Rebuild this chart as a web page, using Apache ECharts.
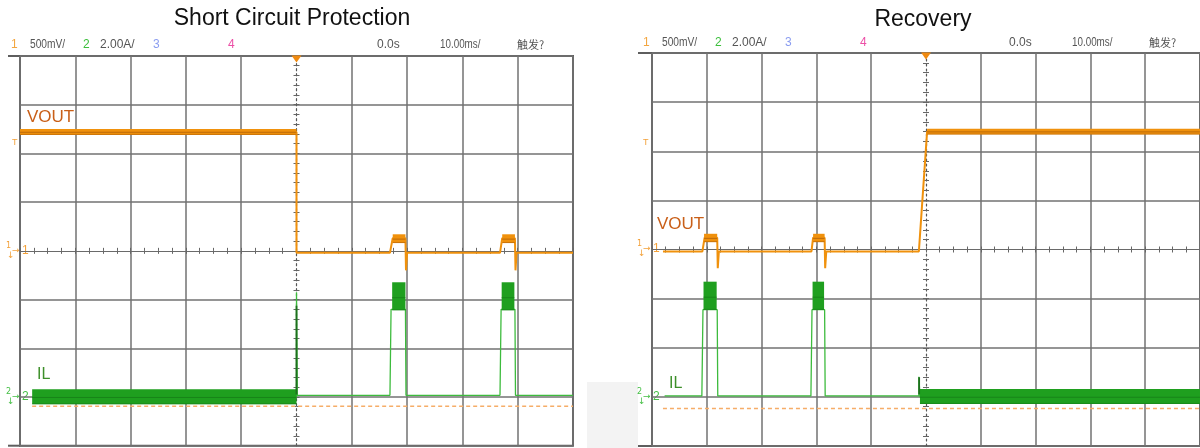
<!DOCTYPE html>
<html><head><meta charset="utf-8">
<script src="https://cdn.jsdelivr.net/npm/echarts@6/dist/echarts.min.js"></script>
<style>html,body{margin:0;padding:0;background:#fff}#c{width:1200px;height:448px}</style>
</head><body><div id="c"></div>
<script>
// ---------------- data ----------------
const panelTitles = ['Short Circuit Protection', 'Recovery'];
const headerTexts = ['1', '500mV/', '2', '2.00A/', '3', '4', '0.0s', '10.00ms/', '触发?'];
const traceNames = ['VOUT', 'IL'];
// time axis (ms), 10 ms/div
const timeMin = -50, timeMax = 50, timeStep = 10;
// CH1 VOUT axis (V), 500 mV/div, ground at centre
const ch1Min = -2, ch1Max = 2, ch1Step = 0.5;
// CH2 IL axis (A), 2 A/div, ground 3 div below centre
const ch2Min = -2, ch2Max = 14, ch2Step = 2;

// Short Circuit Protection : [t(ms), value]
const scpVout = [[-50,1.22],[0,1.22],[0,-0.02],[16.9,-0.02],[17.4,0.13],[19.7,0.13],[19.8,-0.2],[20.0,-0.02],
  [36.8,-0.02],[37.2,0.13],[39.5,0.13],[39.6,-0.2],[39.8,-0.02],[50,-0.02]];
const scpVoutBand = [[-50,0,1.19,1.25],[17.4,19.7,0.08,0.17],[37.2,39.5,0.08,0.17]]; // [t0,t1,lo,hi]
const scpIl = [[-47.8,0],[0,0],[0,4.3],[0.15,0.07],[16.9,0.07],[17.1,3.6],[19.7,3.6],[19.8,0.07],
  [36.8,0.07],[37.0,3.6],[39.5,3.6],[39.6,0.07],[50,0.07]];
const scpIlBand = [[-47.8,0,-0.30,0.32],[17.3,19.7,3.56,4.71],[37.1,39.4,3.56,4.71]];
const scpIlSpike = [[0,0.1],[0,3.75]];
const scpRef = [[-47.8,-0.38],[50,-0.38]];

// Recovery
const recVout = [[-48,-0.02],[-40.8,-0.02],[-40.4,0.12],[-38.1,0.12],[-38.0,-0.19],[-37.8,-0.02],
  [-20.9,-0.02],[-20.6,0.12],[-18.5,0.12],[-18.4,-0.19],[-18.2,-0.02],[-1.3,-0.02],[0.2,1.2],[50,1.2]];
const recVoutBand = [[0.2,50,1.17,1.23],[-40.5,-38.1,0.075,0.16],[-20.6,-18.5,0.075,0.16]];
const recIl = [[-47.7,0.04],[-40.9,0.04],[-40.7,3.55],[-38.1,3.55],[-38.0,0.04],[-21.0,0.04],[-20.8,3.55],
  [-18.5,3.55],[-18.4,0.04],[-1.3,0.04],[-1.3,0.82],[-1.1,0.0],[50,0.0]];
const recIlBand = [[-1.1,50,-0.29,0.32],[-40.6,-38.2,3.54,4.69],[-20.7,-18.6,3.54,4.69]];
const recIlSpike = [[-1.25,0.1],[-1.25,0.8]];
const recRef = [[-48,-0.47],[50,-0.47]];

const panels = [
  {vout: scpVout, voutBand: scpVoutBand, il: scpIl, ilBand: scpIlBand, spike: scpIlSpike, ref: scpRef},
  {vout: recVout, voutBand: recVoutBand, il: recIl, ilBand: recIlBand, spike: recIlSpike, ref: recRef}
];

// ---------------- layout / style ----------------
const grids = [
  {left: 20, top: 56, width: 553, height: 389.7},
  {left: 652, top: 53, width: 554, height: 393}
];
const GRID_C = '#727272', BORDER_C = '#5e5e5e';
const ORANGE = '#f0910c', GREEN_THIN = '#3dbb3d', GREEN_BAND = '#1f9f1f';

const xSplitColors = [];
for (let i = 0; i <= (timeMax - timeMin) / timeStep; i++) xSplitColors.push(timeMin + i * timeStep === 0 ? 'rgba(0,0,0,0)' : GRID_C);
const ySplitColors = [];
for (let i = 0; i <= Math.round((ch1Max - ch1Min) / ch1Step); i++) ySplitColors.push(Math.abs(ch1Min + i * ch1Step) < 1e-9 ? 'rgba(0,0,0,0)' : GRID_C);

const xAxes = [], yAxes = [], series = [];

function bandRender(fill, core) {
  return function (params, api) {
    const p0 = api.coord([api.value(0), api.value(3)]);
    const p1 = api.coord([api.value(1), api.value(2)]);
    const cs = params.coordSys;
    const r = echarts.graphic.clipRectByRect(
      {x: p0[0], y: p0[1], width: p1[0] - p0[0], height: p1[1] - p0[1]},
      {x: cs.x, y: cs.y, width: cs.width, height: cs.height});
    if (!r) return;
    const children = [{type: 'rect', shape: r, style: {fill: fill}}];
    if (core) {
      children.push({type: 'line', shape: {x1: r.x, y1: r.y + r.height * 0.55, x2: r.x + r.width, y2: r.y + r.height * 0.55},
        style: {stroke: core, lineWidth: 1, opacity: 0.7}});
      children.push({type: 'line', shape: {x1: r.x, y1: r.y + r.height - 0.5, x2: r.x + r.width, y2: r.y + r.height - 0.5},
        style: {stroke: core, lineWidth: 1, opacity: 0.5}});
    }
    return {type: 'group', children: children};
  };
}

panels.forEach((p, i) => {
  const tickStyle = {color: '#666', width: 1};
  xAxes.push({gridIndex: i, type: 'value', min: timeMin, max: timeMax, interval: timeStep, position: 'bottom',
    axisLine: {show: true, onZero: true, lineStyle: {color: '#6a6a6a', width: 1.2}},
    axisTick: {show: true, inside: true, length: 3, lineStyle: tickStyle},
    minorTick: {show: true, splitNumber: 4, length: 3, lineStyle: tickStyle},
    axisLabel: {show: false},
    splitLine: {show: true, lineStyle: {color: xSplitColors, width: 1.5}}});
  xAxes.push({gridIndex: i, type: 'value', min: timeMin, max: timeMax, interval: timeStep, position: 'top',
    axisLine: {show: false, onZero: true},
    axisTick: {show: true, inside: true, length: 3, lineStyle: tickStyle},
    minorTick: {show: true, splitNumber: 4, length: 3, lineStyle: tickStyle},
    axisLabel: {show: false}, splitLine: {show: false}});
  yAxes.push({gridIndex: i, type: 'value', min: ch1Min, max: ch1Max, interval: ch1Step, position: 'left',
    axisLine: {show: true, onZero: true, lineStyle: {color: '#555', width: 1.2, type: [2, 3]}},
    axisTick: {show: true, inside: true, length: 3, lineStyle: tickStyle},
    minorTick: {show: true, splitNumber: 5, length: 3, lineStyle: tickStyle},
    axisLabel: {show: false},
    splitLine: {show: true, lineStyle: {color: ySplitColors, width: 1.5}}});
  yAxes.push({gridIndex: i, type: 'value', min: ch1Min, max: ch1Max, interval: ch1Step, position: 'right',
    axisLine: {show: false, onZero: true},
    axisTick: {show: true, inside: true, length: 3, lineStyle: tickStyle},
    minorTick: {show: true, splitNumber: 5, length: 3, lineStyle: tickStyle},
    axisLabel: {show: false}, splitLine: {show: false}});
  yAxes.push({gridIndex: i, type: 'value', min: ch2Min, max: ch2Max, interval: ch2Step, show: false,
    splitLine: {show: false}});

  const xi = 2 * i, y1 = 3 * i, y2 = 3 * i + 2;
  series.push({type: 'line', xAxisIndex: xi, yAxisIndex: y2, data: p.ref, symbol: 'none', silent: true, z: 2,
    lineStyle: {color: '#f6ad68', width: 1.5, type: [4, 3]}});
  series.push({type: 'line', xAxisIndex: xi, yAxisIndex: y2, data: p.il, symbol: 'none', silent: true, z: 3,
    lineStyle: {color: GREEN_THIN, width: 1.3}});
  series.push({type: 'custom', xAxisIndex: xi, yAxisIndex: y2, data: p.ilBand, silent: true, z: 4,
    encode: {x: [0, 1], y: [2, 3]}, renderItem: bandRender(GREEN_BAND, '#157a17')});
  series.push({type: 'line', xAxisIndex: xi, yAxisIndex: y2, data: p.spike, symbol: 'none', silent: true, z: 5,
    lineStyle: {color: '#1d6e1d', width: 1.8}});
  series.push({type: 'line', xAxisIndex: xi, yAxisIndex: y1, data: p.vout, symbol: 'none', silent: true, z: 6,
    lineStyle: {color: ORANGE, width: 2},
    markPoint: {silent: true, symbol: 'triangle', symbolRotate: 180, symbolSize: [10, 7], symbolOffset: [0, 3],
      itemStyle: {color: '#f08a10'}, label: {show: false},
      data: [{coord: [0, ch1Max]}]}});
  series.push({type: 'custom', xAxisIndex: xi, yAxisIndex: y1, data: p.voutBand, silent: true, z: 7,
    encode: {x: [0, 1], y: [2, 3]}, renderItem: bandRender(ORANGE, '#a85a08')});
});

// ---------------- decorations (text, markers) ----------------
const graphic = [];
graphic.push({type: 'rect', shape: {x: 587, y: 382, width: 51, height: 66}, style: {fill: '#f3f3f3'}, z: -1});
const titlePos = [[292, 19], [923, 20]];
panelTitles.forEach((t, i) => graphic.push({type: 'text', x: titlePos[i][0], y: titlePos[i][1],
  style: {text: t, font: '23px "Liberation Sans", Arial, sans-serif', fill: '#111', textAlign: 'center', textVerticalAlign: 'middle'}}));

const headerX = [11, 30, 83, 100, 153, 228, 377, 440, 517];
const headerColors = ['#f3a640', '#555', '#3cbf3c', '#555', '#8a9cf0', '#ec4fa6', '#555', '#555', '#555'];
const headerScale = [1, 0.85, 1, 1, 1, 1, 1, 0.82, 1];
const panelShift = [[0, 45], [632, 43]];
panelShift.forEach(([dx, yy]) => {
  headerTexts.forEach((t, k) => graphic.push({type: 'text', x: headerX[k] + dx, y: yy, scaleX: headerScale[k],
    style: {text: t, font: (k === 8 ? '11px "Noto Sans CJK SC", sans-serif' : '12px "Liberation Sans", Arial, sans-serif'),
      fill: headerColors[k], textVerticalAlign: 'middle'}}));
});

// border extensions on the left of each screen
[[8, 20, 56, 445.7], [638, 652, 53, 446]].forEach(([x1, x2, yt, yb]) => {
  graphic.push({type: 'line', shape: {x1: x1, y1: yt, x2: x2, y2: yt}, style: {stroke: BORDER_C, lineWidth: 2}});
  graphic.push({type: 'line', shape: {x1: x1, y1: yb, x2: x2, y2: yb}, style: {stroke: BORDER_C, lineWidth: 2}});
});

// trace labels
const labelPos = [[[27, 117], [37, 375]], [[657, 224], [669, 384]]];
labelPos.forEach(lp => {
  graphic.push({type: 'text', x: lp[0][0], y: lp[0][1], style: {text: traceNames[0], font: '17px "Liberation Sans", Arial, sans-serif', fill: '#c95f18', textVerticalAlign: 'middle'}});
  graphic.push({type: 'text', x: lp[1][0], y: lp[1][1], style: {text: traceNames[1], font: '16px "Liberation Sans", Arial, sans-serif', fill: '#3d8f2a', textVerticalAlign: 'middle'}});
});

// channel ground markers and trigger-level marker
const markerPos = [[6, 251, 397, 143], [637, 249, 397, 143]];
markerPos.forEach(([mx, c1, c2, tl]) => {
  [[c1, '1', '#f3a13a'], [c2, '2', '#45bf45']].forEach(([yy, n, col]) => {
    graphic.push({type: 'text', x: mx, y: yy - 5, style: {text: n, font: '8px "DejaVu Sans", sans-serif', fill: col, textVerticalAlign: 'middle'}});
    graphic.push({type: 'text', x: mx + 1, y: yy + 5, style: {text: '↓', font: '9px "DejaVu Sans", sans-serif', fill: col, textVerticalAlign: 'middle'}});
    graphic.push({type: 'text', x: mx + 6, y: yy, style: {text: '→', font: '9px "DejaVu Sans", sans-serif', fill: col, textVerticalAlign: 'middle'}});
    graphic.push({type: 'text', x: mx + 16, y: yy, style: {text: n, font: '12px "Liberation Sans", sans-serif', fill: col, textVerticalAlign: 'middle'}});
  });
  graphic.push({type: 'text', x: mx + 6, y: tl, style: {text: 'T', font: '9px "Liberation Sans", sans-serif', fill: '#f3a13a', textVerticalAlign: 'middle'}});
});

const chart = echarts.init(document.getElementById('c'), null, {renderer: 'canvas'});
chart.setOption({
  animation: false,
  backgroundColor: '#ffffff',
  grid: grids.map(g => Object.assign({show: true, borderColor: BORDER_C, borderWidth: 2, backgroundColor: 'transparent', containLabel: false}, g)),
  xAxis: xAxes,
  yAxis: yAxes,
  series: series,
  graphic: graphic
});
</script></body></html>
